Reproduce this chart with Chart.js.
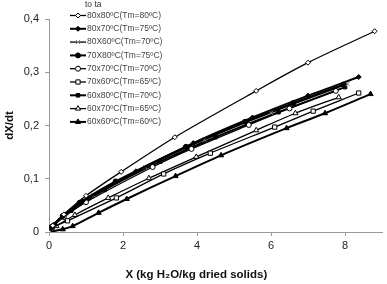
<!DOCTYPE html>
<html>
<head>
<meta charset="utf-8">
<script src="https://cdn.jsdelivr.net/npm/chart.js@4.4.0/dist/chart.umd.min.js"></script>
<style>
  html, body { margin: 0; padding: 0; background: #fff; }
</style>
</head>
<body>
<canvas id="grafica" width="387" height="284"></canvas>
<script>
// ticks
const xTicks = [0, 2, 4, 6, 8];
const yTicks = [0, 0.1, 0.2, 0.3, 0.4];

// series (to x ta)
const nombres = [
  '80x80ºC(Tm=80ºC)', '80x70ºC(Tm=75ºC)', '80X60ºC(Tm=70ºC)',
  '70X80ºC(Tm=75ºC)', '70x70ºC(Tm=70ºC)', '70x60ºC(Tm=65ºC)',
  '60x80ºC(Tm=70ºC)', '60x70ºC(Tm=65ºC)', '60x60ºC(Tm=60ºC)'
];

const x8080 = [0, 0.1, 0.4, 1.0, 1.95, 3.4, 5.6, 7.0, 8.8];
const y8080 = [0, 0.012, 0.033, 0.068, 0.113, 0.178, 0.265, 0.318, 0.377];

const x8070 = [0, 0.1, 0.37, 0.9, 2.35, 3.9, 5.5, 7.0, 8.37];
const y8070 = [0, 0.012, 0.030, 0.058, 0.114, 0.167, 0.215, 0.256, 0.291];

const x8060 = [0, 0.12, 0.45, 1.2, 2.6, 4.2, 6.0, 8.07];
const y8060 = [0, 0.013, 0.034, 0.069, 0.122, 0.173, 0.224, 0.278];

const x7080 = [0, 0.08, 0.37, 0.83, 1.8, 3.7, 5.3, 6.6, 7.96];
const y7080 = [0, 0.010, 0.030, 0.055, 0.095, 0.160, 0.207, 0.242, 0.277];

const x7070 = [0, 0.1, 0.4, 1.0, 2.8, 3.85, 5.4, 6.5, 7.75];
const y7070 = [0, 0.010, 0.028, 0.056, 0.122, 0.156, 0.201, 0.232, 0.265];

const x7060 = [0, 0.08, 0.5, 1.82, 3.1, 4.36, 6.1, 7.14, 8.37];
const y7060 = [0, 0.008, 0.021, 0.064, 0.109, 0.148, 0.197, 0.227, 0.261];

const x6080 = [0, 0.15, 0.6, 1.5, 3.0, 4.5, 6.2, 8.0];
const y6080 = [0, 0.014, 0.040, 0.079, 0.132, 0.178, 0.225, 0.272];

const x6070 = [0, 0.2, 0.7, 1.6, 2.7, 3.98, 5.6, 6.66, 7.83];
const y6070 = [0, 0.011, 0.032, 0.064, 0.101, 0.141, 0.191, 0.223, 0.253];

const x6060 = [0, 0.37, 0.64, 1.34, 2.1, 3.42, 4.65, 6.42, 7.46, 8.69];
const y6060 = [0, 0.005, 0.011, 0.036, 0.062, 0.105, 0.144, 0.195, 0.223, 0.259];

const seriesX = [x8080, x8070, x8060, x7080, x7070, x7060, x6080, x6070, x6060];
const seriesY = [y8080, y8070, y8060, y7080, y7070, y7060, y6080, y6070, y6060];

// estilo de cada serie
const estilos = [
  { punto: 'rectRot',  relleno: '#fff', borde: '#000', radio: 2.5, ancho: 1.3 },
  { punto: 'rectRot',  relleno: '#000', borde: '#000', radio: 2.5, ancho: 2 },
  { punto: 'crossRot', relleno: '#888', borde: '#888', radio: 3,   ancho: 1.3 },
  { punto: 'circle',   relleno: '#000', borde: '#000', radio: 2.5, ancho: 2 },
  { punto: 'circle',   relleno: '#fff', borde: '#000', radio: 2.5, ancho: 1.3 },
  { punto: 'rect',     relleno: '#fff', borde: '#000', radio: 3,   ancho: 1.3 },
  { punto: 'rect',     relleno: '#000', borde: '#000', radio: 2.5, ancho: 2 },
  { punto: 'triangle', relleno: '#fff', borde: '#000', radio: 3,   ancho: 1.3 },
  { punto: 'triangle', relleno: '#000', borde: '#000', radio: 3,   ancho: 2 }
];

const datasets = nombres.map((nombre, i) => ({
  label: nombre,
  data: seriesX[i].map((x, j) => ({ x: x, y: seriesY[i][j] })),
  borderColor: '#000',
  borderWidth: estilos[i].ancho,
  pointStyle: estilos[i].punto,
  pointRadius: estilos[i].radio,
  pointBackgroundColor: estilos[i].relleno,
  pointBorderColor: estilos[i].borde,
  pointBorderWidth: 1,
  fill: false,
  tension: 0.3
}));

// leyenda vertical dibujada a mano
const leyenda = {
  id: 'leyenda',
  afterDraw(chart) {
    const ctx = chart.ctx;
    ctx.save();
    ctx.font = '8.5px "Liberation Sans", Arial, sans-serif';
    ctx.textBaseline = 'middle';
    ctx.textAlign = 'left';
    ctx.fillStyle = '#333';
    ctx.fillText('to ta', 85, 5);
    chart.data.datasets.forEach((ds, i) => {
      const y = 15.5 + i * 13.3;
      ctx.strokeStyle = '#000';
      ctx.lineWidth = ds.borderWidth;
      ctx.beginPath();
      ctx.moveTo(70, y);
      ctx.lineTo(86, y);
      ctx.stroke();
      ctx.fillStyle = ds.pointBackgroundColor;
      ctx.strokeStyle = ds.pointBorderColor;
      ctx.lineWidth = 1;
      Chart.helpers.drawPoint(ctx, { pointStyle: ds.pointStyle, radius: ds.pointRadius, borderWidth: 1, rotation: 0 }, 78, y);
      ctx.fillStyle = '#444';
      ctx.fillText(ds.label, 87, y);
    });
    ctx.restore();
  }
};

new Chart(document.getElementById('grafica'), {
  type: 'line',
  data: { datasets: datasets },
  plugins: [leyenda],
  options: {
    responsive: false,
    animation: false,
    layout: { padding: { top: 19, right: 2, left: 0, bottom: 0 } },
    plugins: {
      legend: { display: false },
      tooltip: { enabled: false }
    },
    scales: {
      x: {
        type: 'linear',
        min: 0,
        max: 9,
        afterFit: s => { s.height = 52; },
        afterBuildTicks: s => { s.ticks = xTicks.map(v => ({ value: v })); },
        grid: { drawOnChartArea: false, drawTicks: true, tickLength: 4, color: '#999' },
        border: { color: '#999' },
        ticks: { color: '#222', font: { family: '"Liberation Sans", Arial', size: 11 }, padding: 3 },
        title: {
          display: true,
          text: 'X (kg H₂O/kg dried solids)            ',
          color: '#111',
          font: { family: '"Liberation Sans", Arial', size: 11.5, weight: 'bold' },
          padding: { top: 0, bottom: 2 }
        }
      },
      y: {
        min: 0,
        max: 0.4,
        afterFit: s => { s.width = 49; },
        afterBuildTicks: s => { s.ticks = yTicks.map(v => ({ value: v })); },
        grid: { drawOnChartArea: false, drawTicks: true, tickLength: 4, color: '#999' },
        border: { color: '#999' },
        ticks: {
          color: '#222',
          font: { family: '"Liberation Sans", Arial', size: 11 },
          padding: 6,
          callback: v => v === 0 ? '0' : v.toFixed(1).replace('.', ',')
        },
        title: {
          display: true,
          text: 'dX/dt',
          color: '#111',
          font: { family: '"Liberation Sans", Arial', size: 11.5, weight: 'bold' },
          padding: { top: 3, bottom: 0 }
        }
      }
    }
  }
});
</script>
</body>
</html>
